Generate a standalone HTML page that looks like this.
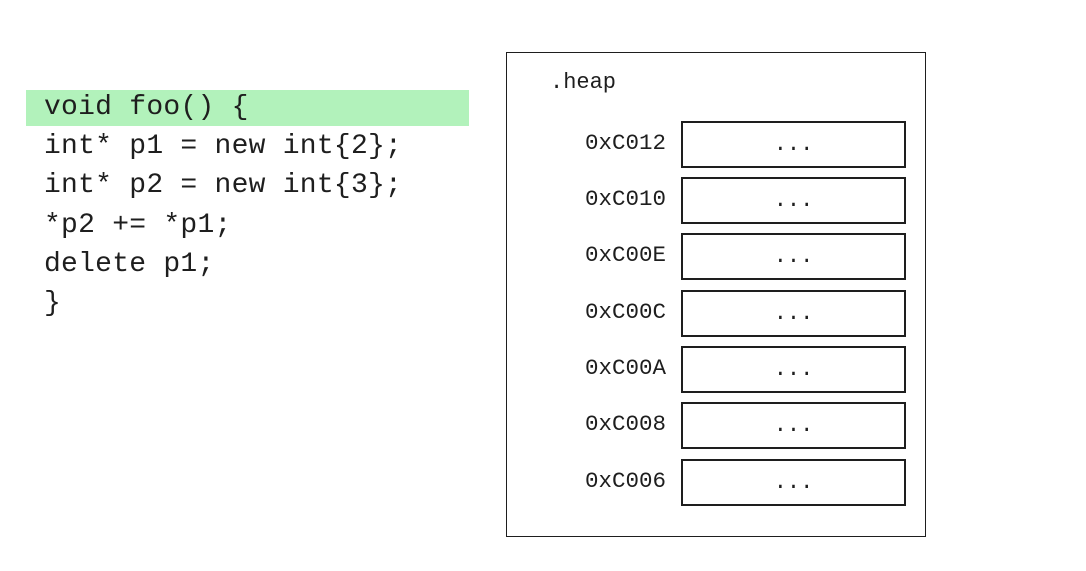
<!DOCTYPE html>
<html><head><style>
body{margin:0;width:1086px;height:571px;background:#fff;position:relative;overflow:hidden;font-family:"Liberation Mono",monospace;color:#1e1e1e}
.hl{position:absolute;left:26px;top:90px;width:443px;height:36px;background:#b2f2bb}
.code{position:absolute;left:44px;font-size:28px;line-height:39.2px;white-space:pre;letter-spacing:0.25px}
.box{position:absolute;left:506px;top:52px;width:418px;height:483px;border:1px solid #1e1e1e}
.cell{position:absolute;left:681px;width:221px;height:43px;border:2px solid #1e1e1e;text-align:center;font-size:22px;line-height:43px}
.addr{position:absolute;width:120px;left:546px;text-align:right;font-size:22.5px;line-height:46px}
.heap{position:absolute;left:550px;top:68px;font-size:22px;line-height:30px}
</style></head><body>
<div class="hl"></div>
<div class="code" style="top:88px">void foo() {
int* p1 = new int{2};
int* p2 = new int{3};
*p2 += *p1;
delete p1;
}</div>
<div class="box"></div>
<div class="heap">.heap</div>
<div class="addr" style="top:120px">0xC012</div><div class="cell" style="top:121px">...</div>
<div class="addr" style="top:176px">0xC010</div><div class="cell" style="top:177px">...</div>
<div class="addr" style="top:232px">0xC00E</div><div class="cell" style="top:233px">...</div>
<div class="addr" style="top:289px">0xC00C</div><div class="cell" style="top:290px">...</div>
<div class="addr" style="top:345px">0xC00A</div><div class="cell" style="top:346px">...</div>
<div class="addr" style="top:401px">0xC008</div><div class="cell" style="top:402px">...</div>
<div class="addr" style="top:458px">0xC006</div><div class="cell" style="top:459px">...</div>
</body></html>
